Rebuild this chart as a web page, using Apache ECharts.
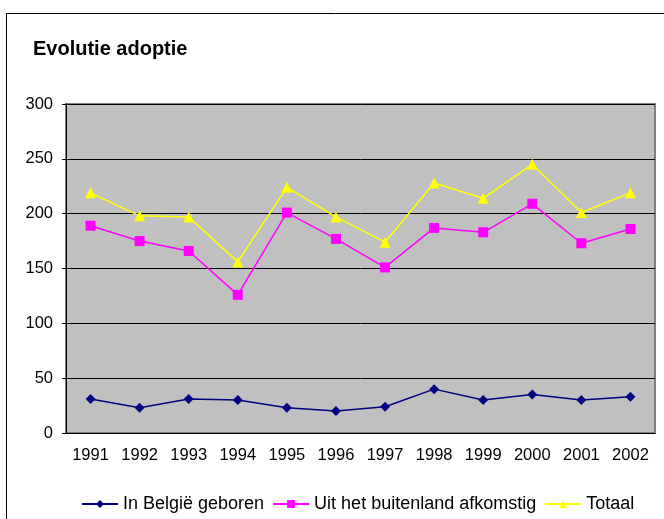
<!DOCTYPE html>
<html>
<head>
<meta charset="utf-8">
<script src="https://cdn.jsdelivr.net/npm/echarts@6/dist/echarts.min.js"></script>
<style>
  html, body { margin: 0; padding: 0; background: #fff; }
  #chart { width: 664px; height: 519px; }
</style>
</head>
<body>
<div id="chart"></div>
<script>
  // values
  const years = ['1991', '1992', '1993', '1994', '1995', '1996', '1997', '1998', '1999', '2000', '2001', '2002'];
  const belgie = [31, 23, 31, 30, 23, 20, 24, 40, 30, 35, 30, 33];
  const buitenland = [189, 175, 166, 126, 201, 177, 151, 187, 183, 209, 173, 186];
  const totaal = [219, 198, 197, 156, 224, 197, 174, 228, 214, 245, 201, 219];
  const yTicks = { min: 0, max: 300, interval: 50 };

  const font = 'Liberation Sans, Arial, sans-serif';

  let chart = echarts.init(document.getElementById('chart'));
  let option = {
    backgroundColor: '#fff',
    animation: false,
    title: {
      text: 'Evolutie adoptie',
      left: 28,
      top: 34,
      textStyle: { fontFamily: font, fontSize: 20, fontWeight: 'bold', color: '#000' }
    },
    graphic: [{
      type: 'rect',
      shape: { x: 6.5, y: 13.5, width: 720, height: 600 },
      style: { fill: 'none', stroke: '#000', lineWidth: 1 },
      silent: true
    }],
    grid: {
      left: 66,
      right: 9,
      top: 104,
      bottom: 86,
      show: true,
      backgroundColor: '#c0c0c0',
      borderColor: '#808080',
      borderWidth: 2
    },
    legend: {
      left: 76,
      top: 490,
      itemWidth: 36,
      itemHeight: 10,
      itemGap: 8,
      textStyle: { fontFamily: font, fontSize: 18, color: '#000' },
      data: ['In België geboren', 'Uit het buitenland afkomstig', 'Totaal']
    },
    xAxis: {
      type: 'category',
      data: years,
      boundaryGap: true,
      axisLine: { lineStyle: { color: '#000', width: 1 } },
      axisTick: { length: 5, lineStyle: { color: '#000' } },
      axisLabel: { fontFamily: font, fontSize: 16.5, color: '#000', margin: 14 }
    },
    yAxis: {
      type: 'value',
      min: yTicks.min,
      max: yTicks.max,
      interval: yTicks.interval,
      axisLine: { show: true, lineStyle: { color: '#000', width: 1 } },
      axisTick: { show: true, length: 4, lineStyle: { color: '#000' } },
      axisLabel: { fontFamily: font, fontSize: 16.5, color: '#000', margin: 13 },
      splitLine: { lineStyle: { color: '#000', width: 1 } }
    },
    series: [
      {
        name: 'In België geboren',
        type: 'line',
        data: belgie,
        symbol: 'diamond',
        symbolSize: 10,
        color: '#000080',
        lineStyle: { width: 1.5, color: '#000080' },
        itemStyle: { color: '#000080' }
      },
      {
        name: 'Uit het buitenland afkomstig',
        type: 'line',
        data: buitenland,
        symbol: 'rect',
        symbolSize: 10,
        color: '#ff00ff',
        lineStyle: { width: 1.5, color: '#ff00ff' },
        itemStyle: { color: '#ff00ff' }
      },
      {
        name: 'Totaal',
        type: 'line',
        data: totaal,
        symbol: 'triangle',
        symbolSize: 11,
        color: '#ffff00',
        lineStyle: { width: 1.5, color: '#ffff00' },
        itemStyle: { color: '#ffff00' }
      }
    ]
  };
  chart.setOption(option);
</script>
</body>
</html>
